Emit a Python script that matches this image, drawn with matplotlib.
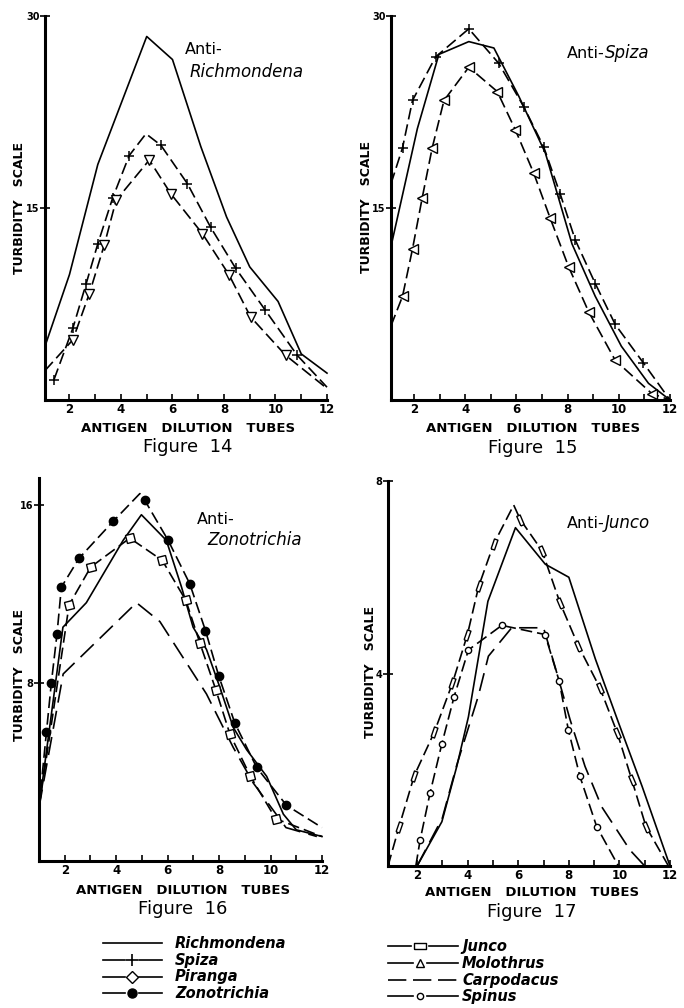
import matplotlib
matplotlib.use('Agg')
import matplotlib.pyplot as plt
from matplotlib.markers import MarkerStyle
from matplotlib.transforms import Affine2D

plt.rcParams['font.family'] = ['DejaVu Sans']

W, H = 684, 1008

# ---- Figure 14 : Anti-Richmondena ----
f14_rich_x = [1.05, 2.0, 3.1, 5.0, 6.0, 7.1, 8.1, 9.0, 10.1, 11.0, 12.0]
f14_rich_y = [4.2, 9.8, 18.4, 28.4, 26.6, 19.8, 14.3, 10.4, 7.7, 3.6, 2.1]
f14_spiza_x = [1.4, 2.13, 2.65, 3.1, 3.68, 4.32, 4.97, 5.55, 6.58, 7.48, 8.45, 9.61, 10.84, 12.0]
f14_spiza_y = [1.6, 5.6, 9.1, 12.2, 15.8, 19.1, 20.8, 19.9, 16.9, 13.5, 10.3, 7.0, 3.5, 1.0]
f14_molo_x = [1.05, 2.13, 2.77, 3.35, 3.81, 5.1, 5.94, 7.16, 8.19, 9.03, 10.39, 12.0]
f14_molo_y = [2.3, 4.7, 8.3, 12.1, 15.6, 18.75, 16.1, 13.0, 9.8, 6.5, 3.5, 0.9]

# ---- Figure 15 : Anti-Spiza ----
f15_rich_x = [1.1, 2.13, 2.97, 4.14, 5.12, 6.1, 7.13, 8.17, 9.08, 10.1, 11.16, 12.0]
f15_rich_y = [12.0, 21.2, 27.0, 28.0, 27.5, 23.7, 19.3, 12.2, 8.1, 4.2, 1.3, 0.0]
f15_spiza_x = [1.1, 1.55, 1.94, 2.84, 4.14, 5.31, 6.29, 7.06, 7.71, 8.3, 9.08, 9.86, 10.96, 12.0]
f15_spiza_y = [16.9, 19.7, 23.4, 26.8, 29.0, 26.3, 22.9, 19.8, 16.1, 12.5, 9.1, 5.9, 2.9, 0.0]
f15_molo_x = [1.1, 1.55, 1.94, 2.32, 2.71, 3.17, 4.14, 5.25, 5.96, 6.68, 7.32, 8.04, 8.82, 9.86, 11.29, 12.0]
f15_molo_y = [5.8, 8.1, 11.8, 15.8, 19.7, 23.4, 26.0, 24.1, 21.1, 17.7, 14.2, 10.4, 6.9, 3.1, 0.5, 0.0]

# ---- Figure 16 : Anti-Zonotrichia ----
f16_rich_x = [1.0, 1.93, 2.84, 4.27, 4.98, 5.95, 6.54, 6.99, 7.51, 8.03, 8.55, 9.07, 9.85, 10.5, 11.0, 12.0]
f16_rich_y = [2.4, 10.5, 11.6, 14.4, 15.55, 14.4, 12.3, 10.5, 9.5, 7.8, 6.0, 5.0, 3.8, 2.1, 1.4, 1.1]
f16_zono_x = [1.0, 1.29, 1.48, 1.7, 1.87, 2.56, 3.88, 4.92, 5.11, 6.02, 6.86, 7.47, 7.99, 8.61, 9.46, 10.62, 12.0]
f16_zono_y = [2.4, 5.8, 8.0, 10.2, 12.3, 13.6, 15.25, 16.5, 16.2, 14.4, 12.45, 10.35, 8.3, 6.2, 4.2, 2.5, 1.5]
f16_pir_x = [1.0, 2.17, 3.01, 4.53, 5.79, 6.71, 7.25, 7.87, 8.42, 9.22, 10.2, 12.0]
f16_pir_y = [2.4, 11.5, 13.2, 14.5, 13.5, 11.7, 9.8, 7.7, 5.7, 3.8, 1.9, 1.1]
f16_carp_x = [1.0, 1.94, 4.79, 5.7, 7.51, 8.55, 9.33, 10.6, 11.8]
f16_carp_y = [2.4, 8.4, 11.6, 10.75, 7.5, 5.1, 3.5, 1.5, 1.1]

# ---- Figure 17 : Anti-Junco ----
f17_rich_x = [2.0, 2.98, 3.57, 4.03, 4.8, 5.89, 7.07, 8.0, 9.05, 9.97, 10.9, 12.0]
f17_rich_y = [0.0, 0.92, 2.07, 3.1, 5.5, 7.03, 6.27, 6.0, 4.3, 2.97, 1.65, 0.0]
f17_junco_x = [0.85, 1.29, 1.89, 2.68, 3.4, 3.99, 4.44, 5.03, 5.82, 6.08, 6.94, 7.65, 8.38, 9.23, 9.92, 10.49, 11.05, 11.94]
f17_junco_y = [0.0, 0.82, 1.88, 2.78, 3.8, 4.81, 5.82, 6.69, 7.5, 7.2, 6.55, 5.47, 4.57, 3.7, 2.76, 1.79, 0.82, 0.0]
f17_spinus_x = [1.95, 2.12, 2.51, 2.98, 3.46, 4.03, 5.35, 7.06, 7.62, 7.98, 8.44, 9.1, 9.96]
f17_spinus_y = [0.0, 0.54, 1.51, 2.54, 3.51, 4.49, 5.0, 4.81, 3.84, 2.83, 1.86, 0.82, 0.0]
f17_carp_x = [2.0, 3.0, 3.57, 4.42, 4.82, 5.74, 7.0, 7.45, 8.05, 8.64, 9.3, 10.42, 11.0]
f17_carp_y = [0.0, 1.0, 2.1, 3.53, 4.36, 4.95, 4.95, 4.15, 3.04, 2.07, 1.23, 0.33, 0.0]

legend_left = ['Richmondena', 'Spiza', 'Piranga', 'Zonotrichia']
legend_right = ['Junco', 'Molothrus', 'Carpodacus', 'Spinus']

fig = plt.figure(figsize=(6.84, 10.08), dpi=100)


def px_axes(l, t, r, b):
    return fig.add_axes([l / W, 1 - b / H, (r - l) / W, (b - t) / H])


def ftext(x, y, s, **kw):
    kw.setdefault('va', 'center')
    return fig.text(x / W, 1 - y / H, s, **kw)


def style(ax, xlo, ytop, yticks):
    ax.set_xlim(xlo, 12)
    ax.set_ylim(0, ytop)
    ax.patch.set_alpha(0)
    for s in ['top', 'right']:
        ax.spines[s].set_visible(False)
    for s in ['left', 'bottom']:
        ax.spines[s].set_linewidth(2.2)
    ticks = list(range(2, 13))
    ax.set_xticks(ticks)
    ax.set_xticklabels([str(t) if t % 2 == 0 else '' for t in ticks],
                       fontsize=8.5, fontweight='bold')
    ax.tick_params(axis='x', direction='in', length=4, width=1.2, pad=2)
    ax.set_yticks(yticks)
    ax.set_yticklabels([str(t) for t in yticks], fontsize=7, fontweight='bold')
    ax.tick_params(axis='y', direction='inout', length=7, width=1.2, pad=0.5)


dash = (0, (7, 3))
longdash = (0, (11, 5))
lw = 1.2
mk = dict(mfc='white', mec='k', mew=1.0)

# ---------- Figure 14 ----------
ax = px_axes(45, 16, 327, 400)
style(ax, 1.05, 30, [15, 30])
ax.plot(f14_rich_x, f14_rich_y, color='k', lw=lw, clip_on=False)
ax.plot(f14_spiza_x, f14_spiza_y, color='k', lw=lw, ls=dash, marker='+', ms=7,
        mew=1.1, markevery=[0, 1, 2, 3, 4, 5, 7, 8, 9, 10, 11, 12], clip_on=False)
ax.plot(f14_molo_x, f14_molo_y, color='k', lw=lw, ls=dash, marker='v', ms=7,
        markevery=list(range(1, 11)), clip_on=False, **mk)

# ---------- Figure 15 ----------
ax = px_axes(391, 16, 670, 400)
style(ax, 1.1, 30, [15, 30])
ax.plot(f15_rich_x, f15_rich_y, color='k', lw=lw, clip_on=False)
ax.plot(f15_spiza_x, f15_spiza_y, color='k', lw=lw, ls=dash, marker='+', ms=7,
        mew=1.1, markevery=list(range(1, 13)), clip_on=False)
ax.plot(f15_molo_x, f15_molo_y, color='k', lw=lw, ls=dash, marker='<', ms=7,
        markevery=list(range(1, 15)), clip_on=False, **mk)

# ---------- Figure 16 ----------
ax = px_axes(39, 478, 322, 861)
style(ax, 1.0, 17.2, [8, 16])
ax.plot(f16_rich_x, f16_rich_y, color='k', lw=lw, clip_on=False)
ax.plot(f16_carp_x, f16_carp_y, color='k', lw=lw, ls=longdash, clip_on=False)
sq = MarkerStyle('s', transform=Affine2D().rotate_deg(15))
ax.plot(f16_pir_x, f16_pir_y, color='k', lw=lw, ls=dash, marker=sq, ms=6,
        markevery=list(range(1, 11)), clip_on=False, **mk)
ax.plot(f16_zono_x, f16_zono_y, color='k', lw=lw, ls=dash, marker='o', ms=6,
        mfc='k', mec='k', markevery=[1, 2, 3, 4, 5, 6, 8, 9, 10, 11, 12, 13, 14, 15],
        clip_on=False)

# ---------- Figure 17 ----------
ax = px_axes(388, 481, 670, 866)
style(ax, 0.85, 8, [4, 8])
ax.plot(f17_rich_x, f17_rich_y, color='k', lw=lw, clip_on=False)
ax.plot(f17_carp_x, f17_carp_y, color='k', lw=lw, ls=longdash, clip_on=False)
ax.plot(f17_spinus_x, f17_spinus_y, color='k', lw=lw, ls=dash, marker='o', ms=4.5,
        markevery=list(range(1, 12)), clip_on=False, **mk)
ax.plot(f17_junco_x, f17_junco_y, color='k', lw=lw, ls=dash, clip_on=False)
rect = [(-0.35, -1), (0.35, -1), (0.35, 1), (-0.35, 1), (-0.35, -1)]
up = MarkerStyle(rect, transform=Affine2D().rotate_deg(-19))
down = MarkerStyle(rect, transform=Affine2D().rotate_deg(23))
ax.plot(f17_junco_x[1:8], f17_junco_y[1:8], ls='none', marker=up, ms=7.5,
        clip_on=False, **mk)
ax.plot(f17_junco_x[9:17], f17_junco_y[9:17], ls='none', marker=down, ms=7.5,
        clip_on=False, **mk)

# ---------- axis titles ----------
xlab = 'ANTIGEN   DILUTION   TUBES'
ylab = 'TURBIDITY   SCALE'
for cx, ya, yf, num in [(188, 428, 447, '14'), (533, 428, 448, '15'),
                        (183, 890, 909, '16'), (532, 892, 912, '17')]:
    ftext(cx, ya, xlab, ha='center', fontsize=9.5, fontweight='bold')
    ftext(cx, yf, 'Figure  ' + num, ha='center', fontsize=13)
for cx, cy in [(20, 208), (366, 207), (20, 675), (370, 672)]:
    ftext(cx, cy, ylab, ha='center', rotation=90, fontsize=9, fontweight='bold')

# ---------- panel annotations ----------
ftext(185, 50, 'Anti-', ha='left', fontsize=11.5)
ftext(190, 72, 'Richmondena', ha='left', fontsize=12, style='italic')
ftext(605, 53, 'Anti-', ha='right', fontsize=11.5)
ftext(605, 53, 'Spiza', ha='left', fontsize=12, style='italic')
ftext(197, 520, 'Anti-', ha='left', fontsize=11.5)
ftext(207, 540, 'Zonotrichia', ha='left', fontsize=12, style='italic')
ftext(605, 523, 'Anti-', ha='right', fontsize=11.5)
ftext(605, 523, 'Junco', ha='left', fontsize=12, style='italic')

# ---------- key ----------
leg = fig.add_axes([0, 0, 1, 1])
leg.set_xlim(0, W)
leg.set_ylim(H, 0)
leg.axis('off')

left_rows = [943, 960, 977, 993]
right_rows = [946, 963, 980, 996]


def key_marker(x0, x1, xm, y, marker, gap=7, **kw):
    leg.plot([x0, xm - gap], [y, y], color='k', lw=lw)
    leg.plot([xm + gap, x1], [y, y], color='k', lw=lw)
    leg.plot([xm], [y], ls='none', marker=marker, color='k', **kw)


y = left_rows
leg.plot([103, 162], [y[0], y[0]], color='k', lw=lw)
key_marker(103, 162, 132, y[1], '+', ms=8, mew=1.2)
key_marker(103, 162, 132, y[2], 'D', ms=6, **mk)
key_marker(103, 162, 132, y[3], 'o', ms=6.5, mfc='k', mec='k')
for name, yy in zip(legend_left, left_rows):
    ftext(175, yy, name, ha='left', fontsize=10.5, style='italic', fontweight='bold')

y = right_rows
hrect = [(-1, -0.45), (1, -0.45), (1, 0.45), (-1, 0.45), (-1, -0.45)]
key_marker(388, 458, 420, y[0], hrect, gap=9, ms=9, **mk)
key_marker(388, 458, 420, y[1], '^', ms=6, **mk)
leg.plot([388, 458], [y[2], y[2]], color='k', lw=lw, ls=(0, (11, 4)))
key_marker(388, 458, 420, y[3], 'o', ms=4.5, **mk)
for name, yy in zip(legend_right, right_rows):
    ftext(462, yy, name, ha='left', fontsize=10.5, style='italic', fontweight='bold')

fig.savefig('out.png', dpi=100)
